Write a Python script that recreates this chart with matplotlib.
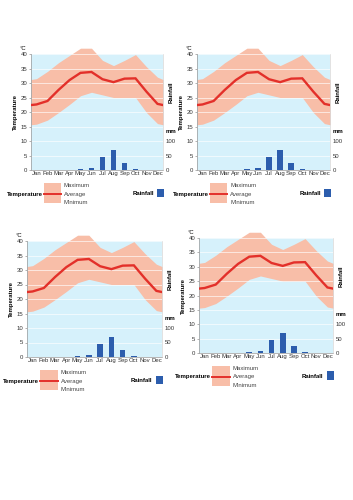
import numpy as np
import matplotlib
matplotlib.use("Agg")
from matplotlib import pyplot as plt
from matplotlib.patches import Rectangle
from matplotlib.lines import Line2D

plt.rcParams['font.family'] = ['Liberation Sans', 'DejaVu Sans']

# data
months = ['Jan', 'Feb', 'Mar', 'Apr', 'May', 'Jun', 'Jul', 'Aug', 'Sep', 'Oct', 'Nov', 'Dec']
temp_max = [31.5, 34, 37, 39.5, 42, 42, 37.8, 36, 37.8, 39.8, 35.6, 32]
temp_avg = [22.6, 23.8, 27.6, 31, 33.5, 33.8, 31.3, 30.3, 31.5, 31.6, 27, 22.8]
temp_min = [15.8, 17.2, 19.8, 22.6, 25.6, 26.8, 25.9, 25, 25, 25, 19.8, 16]
rainfall = [0, 0, 0, 0, 3, 7, 46, 69, 25, 3, 0, 0]
# values where the curves meet the left/right edge (Dec/Jan boundary)
edge_max, edge_avg, edge_min = 31.2, 22.4, 15.6

BG = '#d6f1fb'
PINK = '#f8bea8'
RED = '#e3302a'
BLUE = '#2c5dad'
FS = 4.3

# axes rectangles in pixels (left, top, right, bottom) on a 353x500 canvas
panels = [(31, 54, 163, 170), (197, 54, 330, 170), (27, 241, 162, 357), (199, 238, 333, 353)]

fig = plt.figure(figsize=(3.53, 5.0), dpi=100, facecolor='w')


def draw_panel(px):
    l, t, r, b = px
    ax = fig.add_axes([l / 353, 1 - b / 500, (r - l) / 353, (b - t) / 500])
    ax.set_facecolor(BG)
    x = np.arange(12)
    xe = np.concatenate([[-0.5], x, [11.5]])
    hi = np.concatenate([[edge_max], temp_max, [edge_max]])
    av = np.concatenate([[edge_avg], temp_avg, [edge_avg]])
    lo = np.concatenate([[edge_min], temp_min, [edge_min]])
    ax.fill_between(xe, lo, hi, color=PINK, lw=0, zorder=1, clip_on=False)
    for yv in range(5, 41, 5):
        ax.axhline(yv, color='white', lw=0.6, alpha=0.75, zorder=1.5)
    ax.plot(xe, av, color=RED, lw=1.7, zorder=3, solid_joinstyle='miter')
    ax.set_xlim(-0.5, 11.5)
    ax.set_ylim(0, 40)
    ax.set_yticks(range(0, 41, 5))
    ax.set_xticks(x)
    ax.set_xticklabels(months)
    ax.tick_params(axis='both', labelsize=FS, colors='#333333', pad=1)
    ax.tick_params(axis='y', length=1.5, width=0.4, color='#777777')
    ax.tick_params(axis='x', length=0)
    for s in ['top', 'right']:
        ax.spines[s].set_visible(False)
    for s in ['left', 'bottom']:
        ax.spines[s].set_color('#999999')
        ax.spines[s].set_linewidth(0.5)
    ax.set_ylabel('Temperature', fontsize=FS, fontweight='bold', labelpad=2)
    ax.text(-0.06, 1.03, '°C', transform=ax.transAxes, fontsize=FS, ha='center', va='bottom')

    ax2 = ax.twinx()
    ax2.bar(x, rainfall, width=0.5, color=BLUE, zorder=4)
    ax2.set_ylim(0, 400)
    ax2.set_yticks([0, 50, 100])
    ax2.tick_params(axis='y', labelsize=FS, colors='#333333', length=0, pad=2)
    for s in ['top', 'left', 'bottom']:
        ax2.spines[s].set_visible(False)
    ax2.spines['right'].set_color('#cccccc')
    ax2.spines['right'].set_linewidth(0.4)
    ax2.text(1.02, 0.31, 'mm', transform=ax.transAxes, fontsize=FS, fontweight='bold', ha='left', va='bottom')
    ax2.text(1.06, 0.67, 'Rainfall', transform=ax.transAxes, fontsize=FS, fontweight='bold',
             rotation=90, ha='center', va='center')

    # legend under the chart
    ax.text(-0.18, -0.207, 'Temperature', transform=ax.transAxes, fontsize=FS, fontweight='bold',
            ha='left', va='center')
    ax.add_patch(Rectangle((0.098, -0.284), 0.13, 0.172, transform=ax.transAxes,
                           color=PINK, lw=0, clip_on=False))
    ax.add_line(Line2D([0.098, 0.228], [-0.207, -0.207], transform=ax.transAxes,
                       color=RED, lw=1.4, clip_on=False))
    for yy, lab in [(-0.135, 'Maximum'), (-0.207, 'Average'), (-0.279, 'Minimum')]:
        ax.text(0.25, yy, lab, transform=ax.transAxes, fontsize=FS, color='#444444',
                ha='left', va='center')
    ax.text(0.93, -0.2, 'Rainfall', transform=ax.transAxes, fontsize=FS, fontweight='bold',
            ha='right', va='center')
    ax.add_patch(Rectangle((0.955, -0.235), 0.055, 0.075, transform=ax.transAxes,
                           color=BLUE, lw=0, clip_on=False))


for p in panels:
    draw_panel(p)

fig.savefig('out.png', dpi=100, facecolor='w')
